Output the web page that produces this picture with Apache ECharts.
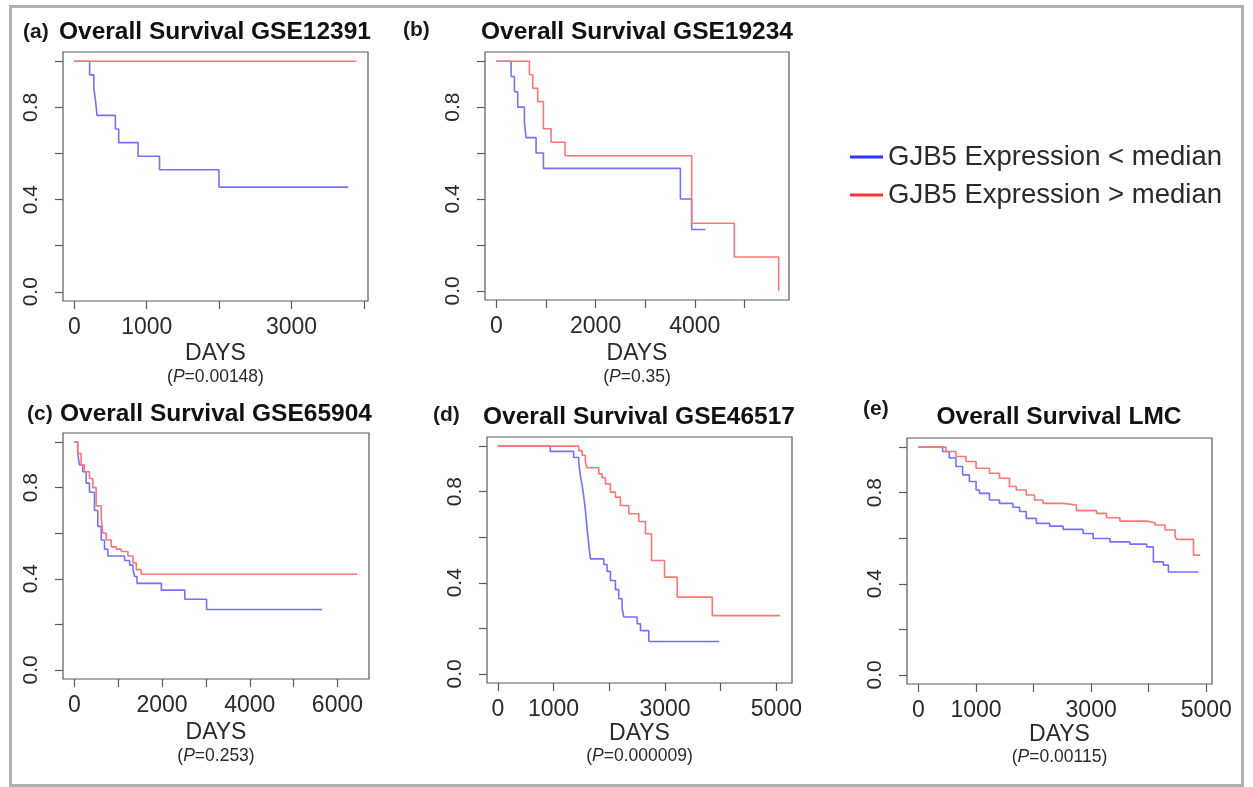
<!DOCTYPE html>
<html>
<head>
<meta charset="utf-8">
<title>GJB5 overall survival</title>
<script src="https://cdn.jsdelivr.net/npm/echarts@6/dist/echarts.min.js"></script>
<style>
  html, body { margin: 0; padding: 0; background: #fff; }
  #chart { width: 1253px; height: 787px; }
</style>
</head>
<body>
<div id="chart"></div>
<script>
const LOW = 'GJB5 Expression < median';
const HIGH = 'GJB5 Expression > median';

// survival curves, [days, survival]
const lowA = [[0, 1], [212, 0.941], [270, 0.882], [295, 0.824], [314, 0.765], [567, 0.706], [613, 0.647], [881, 0.588], [1177, 0.529], [1998, 0.454], [3784, 0.454]];
const highA = [[0, 1], [3900, 1]];

const lowB = [[0, 1], [296, 0.933], [363, 0.867], [430, 0.8], [565, 0.733], [598, 0.667], [800, 0.6], [948, 0.533], [3710, 0.4], [3938, 0.267], [4214, 0.267]];
const highB = [[0, 1], [665, 0.941], [733, 0.882], [833, 0.824], [948, 0.706], [1102, 0.647], [1384, 0.588], [3938, 0.294], [4798, 0.147], [5692, 0]];

const lowC = [[0, 1], [76, 0.95], [115, 0.9], [191, 0.87], [267, 0.82], [344, 0.78], [458, 0.7], [534, 0.63], [611, 0.57], [687, 0.53], [763, 0.5], [1145, 0.48], [1260, 0.46], [1336, 0.44], [1374, 0.41], [1427, 0.38], [1985, 0.35], [2519, 0.31], [3015, 0.265], [5649, 0.265]];
const highC = [[0, 1], [76, 0.95], [153, 0.9], [229, 0.87], [344, 0.84], [420, 0.8], [496, 0.72], [611, 0.67], [649, 0.6], [725, 0.57], [840, 0.54], [954, 0.53], [1069, 0.52], [1221, 0.5], [1336, 0.47], [1412, 0.44], [1527, 0.42], [6450, 0.42]];

const lowD = [[0, 1], [941, 0.977], [1361, 0.95], [1451, 0.93], [1481, 0.87], [1511, 0.83], [1541, 0.78], [1571, 0.72], [1601, 0.64], [1631, 0.57], [1661, 0.505], [1901, 0.48], [1960, 0.45], [2020, 0.41], [2110, 0.37], [2170, 0.33], [2230, 0.29], [2260, 0.25], [2500, 0.22], [2560, 0.19], [2710, 0.142], [3969, 0.142]];
const highD = [[0, 1], [1451, 0.98], [1511, 0.96], [1571, 0.93], [1601, 0.905], [1811, 0.878], [1871, 0.861], [1930, 0.834], [2020, 0.798], [2110, 0.776], [2200, 0.739], [2350, 0.703], [2530, 0.669], [2650, 0.615], [2758, 0.498], [2992, 0.425], [3220, 0.337], [3849, 0.256], [5066, 0.256]];

const lowE = [[0, 1], [244, 1], [419, 0.981], [535, 0.952], [651, 0.915], [767, 0.878], [884, 0.849], [1000, 0.812], [1058, 0.797], [1233, 0.768], [1407, 0.753], [1640, 0.736], [1756, 0.717], [1872, 0.687], [2047, 0.665], [2279, 0.653], [2512, 0.639], [2860, 0.621], [3035, 0.599], [3326, 0.584], [3674, 0.574], [3965, 0.562], [4081, 0.496], [4256, 0.482], [4343, 0.452], [4866, 0.452]];
const highE = [[0, 1], [244, 1], [477, 0.981], [651, 0.959], [826, 0.937], [1000, 0.907], [1233, 0.885], [1407, 0.863], [1581, 0.827], [1698, 0.812], [1872, 0.79], [2017, 0.768], [2163, 0.753], [2512, 0.746], [2744, 0.721], [3093, 0.709], [3267, 0.69], [3500, 0.675], [3965, 0.668], [4110, 0.658], [4285, 0.636], [4459, 0.606], [4488, 0.595], [4779, 0.526], [4895, 0.526]];

// ticks and labels
const yTicks = [0, 0.2, 0.4, 0.6, 0.8, 1.0];
const yLabels = [0, 0.4, 0.8];
const xTicksA = [0, 1000, 2000, 3000, 4000];
const xLabelsA = [0, 1000, 3000];
const xTicksB = [0, 1000, 2000, 3000, 4000, 5000];
const xLabelsB = [0, 2000, 4000];
const xTicksC = [0, 1000, 2000, 3000, 4000, 5000, 6000];
const xLabelsC = [0, 2000, 4000, 6000];
const xTicksD = [0, 1000, 2000, 3000, 4000, 5000];
const xLabelsD = [0, 1000, 3000, 5000];
const xTicksE = [0, 1000, 2000, 3000, 4000, 5000];
const xLabelsE = [0, 1000, 3000, 5000];

const FONT = "'Liberation Sans', Arial, Helvetica, sans-serif";
const TEXT = '#2a2a2a';
const BOX = '#5a5a5a';
const LOW_COLOR = '#7272ff';
const HIGH_COLOR = '#ff7676';

// layout of each panel (box in px, x range, title placement)
const panels = [
  { tag: '(a)', title: 'Overall Survival GSE12391', p: '0.00148', low: lowA, high: highA,
    box: [63, 52, 305, 249], xr: [-156, 4056], ticks: xTicksA, labels: xLabelsA,
    tagAt: [23, 32], titleAt: [59, 32], titleAlign: 'left', gap: 41 },
  { tag: '(b)', title: 'Overall Survival GSE19234', p: '0.35', low: lowB, high: highB,
    box: [485, 52, 304, 248], xr: [-230, 5900], ticks: xTicksB, labels: xLabelsB,
    tagAt: [403, 30], titleAt: [637, 32], titleAlign: 'center', gap: 42 },
  { tag: '(c)', title: 'Overall Survival GSE65904', p: '0.253', low: lowC, high: highC,
    box: [63, 433, 306, 246], xr: [-260, 6720], ticks: xTicksC, labels: xLabelsC,
    tagAt: [27, 414], titleAt: [60, 414], titleAlign: 'left', gap: 42 },
  { tag: '(d)', title: 'Overall Survival GSE46517', p: '0.000009', low: lowD, high: highD,
    box: [487, 437, 305, 246], xr: [-195, 5280], ticks: xTicksD, labels: xLabelsD,
    tagAt: [433, 415], titleAt: [639, 417], titleAlign: 'center', gap: 37 },
  { tag: '(e)', title: 'Overall Survival LMC', p: '0.00115', low: lowE, high: highE,
    box: [907, 438, 305, 246], xr: [-200, 5100], ticks: xTicksE, labels: xLabelsE,
    tagAt: [863, 409], titleAt: [1059, 417], titleAlign: 'center', gap: 37 },
];

const grid = [], xAxis = [], yAxis = [], series = [], graphic = [];

graphic.push({
  type: 'rect', silent: true, z: 0,
  shape: { x: 10.5, y: 6.5, width: 1232, height: 779 },
  style: { fill: 'none', stroke: '#b0b0b0', lineWidth: 3 },
});

panels.forEach((pn, i) => {
  const [left, top, width, height] = pn.box;
  grid.push({ left, top, width, height, show: true, borderColor: BOX, borderWidth: 1.2, containLabel: false });

  xAxis.push({
    type: 'value', gridIndex: i, min: pn.xr[0], max: pn.xr[1],
    axisLine: { show: false, onZero: false },
    splitLine: { show: false },
    axisTick: { show: true, length: 8, customValues: pn.ticks, lineStyle: { color: BOX, width: 1.2 } },
    axisLabel: { customValues: pn.labels, margin: 15, color: TEXT, fontSize: 23, fontFamily: FONT, formatter: v => String(v) },
    name: `{d|DAYS}\n{p|(}{i|P}{p|=${pn.p})}`,
    nameLocation: 'middle', nameGap: pn.gap,
    nameTextStyle: {
      color: TEXT,
      rich: {
        d: { fontSize: 23, lineHeight: 24, fontFamily: FONT, color: TEXT },
        p: { fontSize: 17.5, lineHeight: 22, fontFamily: FONT, color: TEXT },
        i: { fontSize: 17.5, lineHeight: 22, fontFamily: FONT, fontStyle: 'italic', color: TEXT },
      },
    },
  });

  yAxis.push({
    type: 'value', gridIndex: i, min: -0.04, max: 1.04,
    axisLine: { show: false, onZero: false },
    splitLine: { show: false },
    axisTick: { show: true, length: 8, customValues: yTicks, lineStyle: { color: BOX, width: 1.2 } },
    axisLabel: { customValues: yLabels, rotate: 90, margin: 21, color: TEXT, fontSize: 21, fontFamily: FONT, formatter: v => v.toFixed(1) },
  });

  series.push(
    { name: LOW, type: 'line', step: 'end', xAxisIndex: i, yAxisIndex: i, data: pn.low,
      showSymbol: false, color: LOW_COLOR, lineStyle: { width: 1.6, color: LOW_COLOR }, silent: true },
    { name: HIGH, type: 'line', step: 'end', xAxisIndex: i, yAxisIndex: i, data: pn.high,
      showSymbol: false, color: HIGH_COLOR, lineStyle: { width: 1.6, color: HIGH_COLOR }, silent: true },
  );

  graphic.push(
    { type: 'text', x: pn.tagAt[0], y: pn.tagAt[1], silent: true,
      style: { text: pn.tag, font: `bold 21px ${FONT}`, fill: '#1a1a1a', textAlign: 'left', textVerticalAlign: 'middle' } },
    { type: 'text', x: pn.titleAt[0], y: pn.titleAt[1], silent: true,
      style: { text: pn.title, font: `bold 24.5px ${FONT}`, fill: '#111', textAlign: pn.titleAlign, textVerticalAlign: 'middle' } },
  );
});

const chart = echarts.init(document.getElementById('chart'), null, { renderer: 'canvas' });
chart.setOption({
  animation: false,
  backgroundColor: '#fff',
  grid, xAxis, yAxis, series, graphic,
  legend: {
    orient: 'vertical', left: 850, top: 143, padding: 0, itemGap: 10,
    icon: 'rect', itemWidth: 33, itemHeight: 3, selectedMode: false,
    textStyle: { fontSize: 27.5, fontFamily: FONT, color: TEXT },
    data: [
      { name: LOW, itemStyle: { color: '#3030ff' } },
      { name: HIGH, itemStyle: { color: '#ff3535' } },
    ],
  },
});
</script>
</body>
</html>
